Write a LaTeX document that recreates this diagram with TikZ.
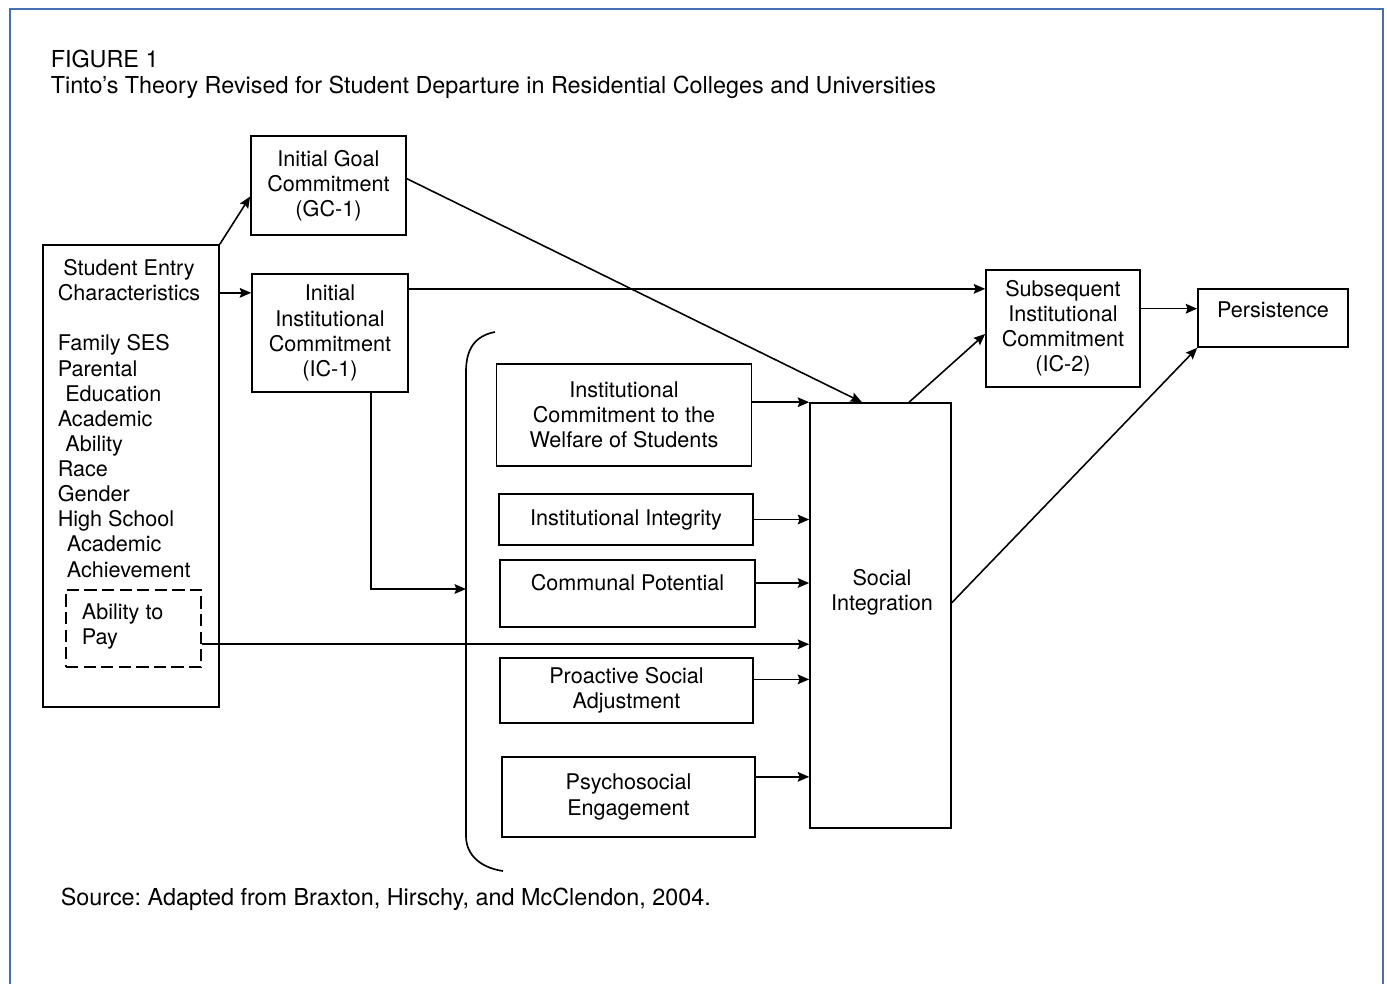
\documentclass[tikz,border=0pt]{standalone}
\usepackage{fontspec}
\setmainfont{TeX Gyre Heros}
\usepackage{xcolor}
\usepackage{tikz}
\usetikzlibrary{arrows.meta}
\usetikzlibrary{calc}
\definecolor{frameblue}{RGB}{68,114,176}
\tikzset{
	main node/.style={rectangle,draw,line width=0.95pt,align=center,inner sep=2pt,
		font=\fontsize{12.3}{14.3}\selectfont},
	dash node/.style={rectangle,draw,dashed,dash pattern=on 7pt off 3pt,line width=0.95pt},
	text node/.style={align=center,inner sep=0pt,font=\fontsize{12.3}{14.3}\selectfont},
	list node/.style={align=left,inner sep=0pt,font=\fontsize{12.3}{14.3}\selectfont},
	caption/.style={inner sep=0pt,font=\fontsize{13.3}{15}\selectfont}
}

\begin{document}
\frenchspacing
\begin{tikzpicture}[->,>={Stealth[length=6.5pt,width=5.5pt,inset=1pt]},x=0.02cm,y=-0.02cm,line width=0.9pt]
	\useasboundingbox (0,0) rectangle (1387,984);
	\draw [-,draw=frameblue,line width=1.3pt] (10,1000) -- (10,9) -- (1383,9) -- (1383,1000);

	\node [caption,anchor=base west] (1) at (50,67) {FIGURE 1};
	\node [caption,anchor=base west] (2) at (50,93)
		{Tinto's Theory Revised for Student Departure in Residential Colleges and Universities};

	% student entry
	\node [main node,minimum width=3.52cm,minimum height=9.24cm] (3) at (131,476) {};
	\node [text node] (4) at (129,280) {Student Entry\\Characteristics};
	\node [list node,anchor=north west] (5) at (57,334)
		{Family SES\\Parental\\\hspace*{0.15cm}Education\\Academic\\\hspace*{0.15cm}Ability\\Race\\Gender\\
		High School\\\hspace*{0.18cm}Academic\\\hspace*{0.18cm}Achievement};
	\node [dash node,minimum width=2.7cm,minimum height=1.54cm] (6) at (133.5,628.5) {};
	\node [list node,anchor=north west] (7) at (81,603) {Ability to\\Pay};

	\node [main node,minimum width=3.1cm,minimum height=1.98cm] (8) at (328.5,185.5)
		{Initial Goal\\Commitment\\(GC-1)};
	\node [main node,minimum width=3.12cm,minimum height=2.36cm] (9) at (330,333)
		{Initial\\Institutional\\Commitment\\(IC-1)};
	\node [main node,minimum width=3.08cm,minimum height=2.34cm] (10) at (1063,328.5)
		{Subsequent\\Institutional\\Commitment\\(IC-2)};
	\node [main node,minimum width=3.0cm,minimum height=1.16cm] (11) at (1273,318) {};
	\node [text node] (12) at (1273,310) {Persistence};

	% the five boxes inside the bracket
	\node [main node,minimum width=5.1cm,minimum height=2.04cm] (13) at (624,415)
		{Institutional\\Commitment to the\\Welfare of Students};
	\node [main node,minimum width=5.08cm,minimum height=1.02cm] (14) at (626,519.5)
		{Institutional Integrity};
	\node [main node,minimum width=5.1cm,minimum height=1.34cm] (15) at (627.5,593.5) {};
	\node [text node] (16) at (627.5,583) {Communal Potential};
	\node [main node,minimum width=5.06cm,minimum height=1.3cm] (17) at (626.5,690.5)
		{Proactive Social\\Adjustment};
	\node [main node,minimum width=5.06cm,minimum height=1.6cm] (18) at (628.5,797)
		{Psychosocial\\Engagement};
	\node [main node,minimum width=2.82cm,minimum height=8.5cm] (19) at (880.5,615.5) {};
	\node [text node] (20) at (882,592) {Social\\Integration};

	\node [caption,anchor=base west] (21) at (60,905)
		{Source: Adapted from Braxton, Hirschy, and McClendon, 2004.};

	% bracket
	\draw [-,line width=0.95pt] (495,332) .. controls (474,336) and (466,350) .. (466,372)
		-- (466,836) .. controls (466,856) and (482,868) .. (503,871);
	\coordinate (b) at (466,589);

	\draw (3.north east) -- (8.188);
	\draw (9.153 -| 3.east) -- (9.153);
	\draw (10.153 -| 9.east) -- (10.153);
	\draw (8.5) -- ($(19.north west)!0.37!(19.north east)$);
	\draw ($(9.south west)!0.76!(9.south east)$) |- (b);
	\draw (6.-13) -- (6.-13 -| 19.west);
	\draw (13.east |- 19.north west) -- (19.north west);
	\draw (14.east) -- (14.east -| 19.west);
	\draw (15.east |- 16) -- (16 -| 19.west);
	\draw (17.5) -- (17.5 -| 19.west);
	\draw (18.9) -- (18.9 -| 19.west);
	\draw ($(19.north west)!0.7!(19.north east)$) -- (10.184);
	\draw ($(19.north east)!0.47!(19.south east)$) -- (11.south west);
	\draw (11.173 -| 10.east) -- (11.173);
\end{tikzpicture}
\end{document}
